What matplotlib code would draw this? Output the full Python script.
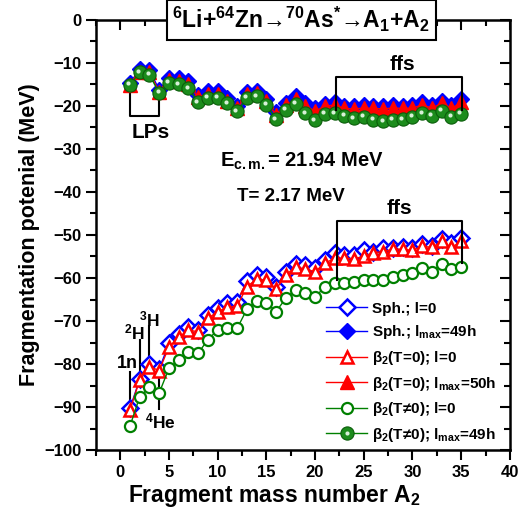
import matplotlib
matplotlib.use("Agg")
import matplotlib.pyplot as plt
from matplotlib.lines import Line2D
from matplotlib.legend_handler import HandlerTuple
import matplotlib.transforms as mtransforms

plt.rcParams['font.family'] = ['Liberation Sans', 'DejaVu Sans']
plt.rcParams['font.weight'] = 'bold'
plt.rcParams['mathtext.fontset'] = 'custom'
plt.rcParams['mathtext.rm'] = 'Liberation Sans:bold'
plt.rcParams['mathtext.bf'] = 'Liberation Sans:bold'
plt.rcParams['mathtext.it'] = 'Liberation Sans:bold'
plt.rcParams['mathtext.default'] = 'bf'

A2 = list(range(1, 36))

sph_lmax = [-14.7, -11.5, -11.6, -16.3, -13.6, -13.6, -14.3, -17.4, -16.6, -16.6,
            -18.2, -20.0, -16.7, -16.5, -18.3, -21.5, -19.3, -17.8, -19.4, -20.6,
            -19.5, -19.1, -20.0, -20.1, -19.9, -20.0, -20.1, -19.9, -20.0, -19.9,
            -19.2, -19.9, -18.8, -19.9, -18.5]
b2T0_lmax = [-15.2, -12.1, -12.2, -16.8, -14.1, -14.2, -14.9, -18.0, -17.2, -17.2,
             -18.8, -20.6, -17.3, -17.1, -18.9, -22.1, -19.9, -18.4, -20.0, -21.2,
             -20.1, -19.8, -20.6, -20.7, -20.5, -20.6, -20.7, -20.5, -20.6, -20.5,
             -19.8, -20.5, -19.4, -20.6, -19.2]
b2T_lmax = [-15.1, -12.2, -12.8, -17.0, -14.6, -15.0, -15.9, -19.2, -18.2, -18.2,
            -19.4, -21.3, -18.2, -17.8, -19.8, -23.1, -20.9, -19.6, -21.7, -23.4,
            -21.9, -21.7, -22.3, -22.9, -22.6, -23.3, -23.6, -23.3, -23.1, -22.6,
            -21.7, -22.3, -21.1, -22.5, -21.9]
sph_l0 = [-90.3, -83.5, -80.0, -81.2, -75.2, -72.9, -71.3, -72.1, -68.6, -67.0,
          -65.9, -65.6, -60.7, -59.3, -59.8, -62.0, -58.5, -56.7, -57.0, -57.7,
          -55.7, -54.3, -54.7, -54.6, -53.5, -53.9, -53.0, -53.1, -52.7, -53.1,
          -52.2, -52.5, -50.9, -51.9, -50.8]
b2T0_l0 = [-90.6, -83.7, -80.6, -81.5, -76.0, -73.8, -72.1, -72.5, -69.4, -67.8,
           -66.8, -66.5, -62.0, -60.3, -60.5, -62.6, -59.3, -57.4, -58.0, -58.5,
           -56.6, -55.4, -55.4, -55.5, -55.0, -54.1, -53.9, -53.3, -53.3, -53.6,
           -52.6, -52.9, -51.5, -52.9, -51.5]
b2T_l0 = [-94.4, -87.6, -85.4, -86.7, -81.0, -79.1, -77.1, -77.5, -74.3, -72.1,
          -71.7, -71.7, -67.3, -65.3, -65.7, -67.8, -64.7, -62.8, -63.6, -64.3,
          -62.2, -61.2, -61.2, -61.0, -60.5, -60.5, -60.5, -59.7, -59.3, -58.8,
          -57.7, -58.5, -56.7, -58.0, -57.5]

labels = ["Sph.; l=0", r"Sph.; l$_{max}$=49h", r"β$_2$(T=0); l=0",
          r"β$_2$(T=0); l$_{max}$=50h", r"β$_2$(T≠0); l=0", r"β$_2$(T≠0); l$_{max}$=49h"]

BLUE = '#0000ff'
RED = '#ff0000'
GREEN = '#008000'
BALL = '#1c8c1c'

fig = plt.figure(figsize=(5.24, 5.21), dpi=100)
ax = fig.add_axes([0.183, 0.136, 0.79, 0.826])

# lower (l=0) series
ax.plot(A2, sph_l0, '-', color=BLUE, lw=1, marker='D', ms=8, mfc='white', mec=BLUE, mew=1.8, zorder=3)
ax.plot(A2, b2T0_l0, '-', color=RED, lw=1, marker='^', ms=9, mfc='white', mec=RED, mew=1.8, zorder=4)
ax.plot(A2, b2T_l0, '-', color=GREEN, lw=1, marker='o', ms=8, mfc='white', mec=GREEN, mew=1.6, zorder=4)

# upper (lmax) series
ax.plot(A2, sph_lmax, '-', color=BLUE, lw=1, marker='D', ms=8.5, mfc=BLUE, mec=BLUE, mew=1, zorder=3)
ax.plot(A2, b2T0_lmax, '-', color=RED, lw=1, marker='^', ms=9.5, mfc=RED, mec=RED, mew=1, zorder=4)
ax.plot(A2, b2T_lmax, '-', color=GREEN, lw=1, marker='o', ms=9.5, mfc=BALL, mec='#0b5e0b', mew=0.8, zorder=5)
hl = mtransforms.offset_copy(ax.transData, fig=fig, x=-1.2, y=1.2, units='points')
ax.plot(A2, b2T_lmax, ls='none', marker='o', ms=3, mfc='#d8f0d8', mec='none', transform=hl, zorder=6)

ax.set_xlim(-2.5, 40)
ax.set_ylim(-100, 0)
ax.set_xticks(range(0, 41, 5))
ax.set_xticks([x + 2.5 for x in range(-5, 40, 5)], minor=True)
ax.set_yticks(range(-100, 1, 10))
ax.set_yticks(range(-95, 0, 10), minor=True)
for s in ax.spines.values():
    s.set_linewidth(1.8)
ax.tick_params(which='both', direction='out', width=1.5, labelsize=12)
ax.tick_params(which='major', length=7)
ax.tick_params(which='minor', length=4)
ax.tick_params(which='both', top=True, right=True)
for t in ax.xaxis.get_major_ticks() + ax.xaxis.get_minor_ticks():
    t.tick2line.set_marker(3)
for t in ax.yaxis.get_major_ticks() + ax.yaxis.get_minor_ticks():
    t.tick2line.set_marker(0)
for lab in ax.get_xticklabels() + ax.get_yticklabels():
    lab.set_fontweight('bold')

ax.set_xlabel(r"Fragment mass number A$_2$", fontsize=16.5, fontweight='bold', labelpad=2)
ax.xaxis.set_label_coords(0.43, -0.075)
ax.set_ylabel("Fragmentation potenial (MeV)", fontsize=15.5, fontweight='bold', labelpad=3)

# title box
ax.text(0.496, 1.0, r"$^{6}$Li+$^{64}$Zn→$^{70}$As$^{*}$→A$_1$+A$_2$",
        transform=ax.transAxes, ha='center', va='center', fontsize=16.5, fontweight='bold',
        bbox=dict(boxstyle='square,pad=0.25', fc='white', ec='black', lw=1.5), zorder=10)

ax.text(18.7, -33, r"E$_{c.m.}$= 21.94 MeV", ha='center', va='center', fontsize=14.5, fontweight='bold')
ax.text(17.5, -41, "T= 2.17 MeV", ha='center', va='center', fontsize=13.5, fontweight='bold')

# LPs bracket
ax.plot([1, 1, 4, 4], [-15.1, -22.3, -22.3, -17.0], color='black', lw=1.5, zorder=2)
ax.text(3.1, -26.3, "LPs", ha='center', va='center', fontsize=15, fontweight='bold')

# ffs brackets
ax.plot([22.1, 22.1, 35.1, 35.1], [-20.9, -13.3, -13.3, -21.0], color='black', lw=1.5, zorder=6)
ax.text(29.0, -10.5, "ffs", ha='center', va='center', fontsize=15, fontweight='bold')
ax.plot([22.3, 22.3, 35.1, 35.1], [-60.5, -46.7, -46.7, -56.4], color='black', lw=1.5, zorder=6)
ax.text(28.7, -43.8, "ffs", ha='center', va='center', fontsize=15, fontweight='bold')

# light particle markers
ax.plot([1, 1], [-81.8, -90.7], color='black', lw=1.5, zorder=2)
ax.text(0.7, -79.8, "1n", ha='center', va='center', fontsize=13, fontweight='bold')
ax.plot([2, 2], [-74.4, -83.0], color='black', lw=1.5, zorder=2)
ax.text(1.4, -72.7, r"$^{2}$H", ha='center', va='center', fontsize=12.5, fontweight='bold')
ax.plot([3, 3], [-71.2, -80.2], color='black', lw=1.5, zorder=2)
ax.text(3.0, -69.6, r"$^{3}$H", ha='center', va='center', fontsize=12.5, fontweight='bold')
ax.plot([4, 4], [-83.0, -90.5], color='black', lw=1.5, zorder=2)
ax.text(4.1, -93.4, r"$^{4}$He", ha='center', va='center', fontsize=12.5, fontweight='bold')

# legend
h = [
    Line2D([], [], color=BLUE, lw=1, marker='D', ms=8, mfc='white', mec=BLUE, mew=1.8),
    Line2D([], [], color=BLUE, lw=1, marker='D', ms=8.5, mfc=BLUE, mec=BLUE),
    Line2D([], [], color=RED, lw=1, marker='^', ms=9, mfc='white', mec=RED, mew=1.8),
    Line2D([], [], color=RED, lw=1, marker='^', ms=9.5, mfc=RED, mec=RED),
    Line2D([], [], color=GREEN, lw=1, marker='o', ms=8, mfc='white', mec=GREEN, mew=1.6),
    (Line2D([], [], color=GREEN, lw=1, marker='o', ms=9.5, mfc=BALL, mec='#0b5e0b', mew=0.8),
     Line2D([], [], ls='none', marker='o', ms=3, mfc='#d8f0d8', mec='none')),
]
leg = ax.legend(h, labels, loc='upper left', bbox_to_anchor=(0.53, 0.37), frameon=False,
                fontsize=11, handlelength=2.7, labelspacing=0.5, handletextpad=0.3,
                borderaxespad=0.3, handler_map={tuple: HandlerTuple(ndivide=1)})
for t in leg.get_texts():
    t.set_fontweight('bold')

fig.savefig("out.png", dpi=100)
